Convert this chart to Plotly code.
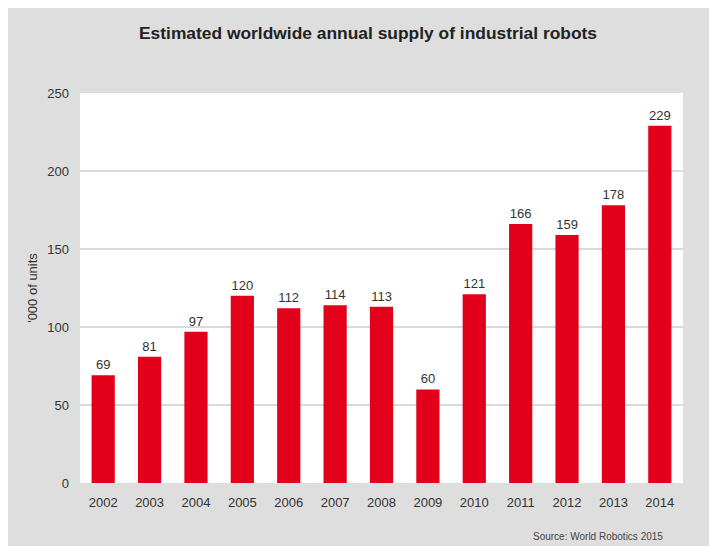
import plotly.graph_objects as go

years = ["2002", "2003", "2004", "2005", "2006", "2007", "2008",
         "2009", "2010", "2011", "2012", "2013", "2014"]
units = [69, 81, 97, 120, 112, 114, 113, 60, 121, 166, 159, 178, 229]
yticks = [0, 50, 100, 150, 200, 250]

FONT = "Liberation Sans Narrow, Arial Narrow, Liberation Sans, Arial, sans-serif"
W, H = 709, 546
L, R, T, B = 80, 26, 93, 63
pw, ph = W - L - R, H - T - B

fig = go.Figure(go.Bar(
    x=years, y=units,
    marker=dict(color="#e2001a", line=dict(width=0)),
    text=[str(v) for v in units], textposition="outside",
    textfont=dict(family=FONT, size=13, color="#333333"),
    cliponaxis=False, width=0.5,
))

def px_x(p):
    return (p - L) / pw

def px_y(p):
    return (H - B - p) / ph

fig.update_layout(
    width=W, height=H,
    margin=dict(l=L, r=R, t=T, b=B),
    paper_bgcolor="#dedede",
    plot_bgcolor="#ffffff",
    showlegend=False,
    title=dict(text="<b>Estimated worldwide annual supply of industrial robots</b>",
               xref="container", x=368 / W, xanchor="center",
               y=1 - 33 / H, yanchor="middle",
               font=dict(family=FONT, size=17.4, color="#222222")),
    xaxis=dict(type="category", range=[-0.5, 12.5], showgrid=False,
               ticks="", ticklabelstandoff=10,
               tickfont=dict(family=FONT, size=13, color="#333333"),
               showline=False, zeroline=False),
    yaxis=dict(range=[0, 250], tickvals=yticks, showgrid=True,
               gridcolor="#d9d9d9", gridwidth=1.5, zeroline=False,
               ticklabelstandoff=10,
               tickfont=dict(family=FONT, size=13, color="#333333"),
               ticks="", ticklen=0, title=dict(text="'000 of units",
               font=dict(family=FONT, size=13, color="#333333"), standoff=6)),
    shapes=[
        dict(type="rect", xref="paper", yref="paper",
             x0=px_x(0), x1=px_x(W), y0=px_y(0), y1=px_y(8),
             fillcolor="#ffffff", line=dict(width=0), layer="above"),
        dict(type="rect", xref="paper", yref="paper",
             x0=px_x(0), x1=px_x(8), y0=px_y(0), y1=px_y(H),
             fillcolor="#ffffff", line=dict(width=0), layer="above"),
    ],
    annotations=[
        dict(text="Source: World Robotics 2015", xref="paper", yref="paper",
             x=px_x(665), y=px_y(536), xanchor="right", yanchor="middle",
             showarrow=False, font=dict(family=FONT, size=10, color="#444444")),
    ],
)

fig.write_html("out.html")
